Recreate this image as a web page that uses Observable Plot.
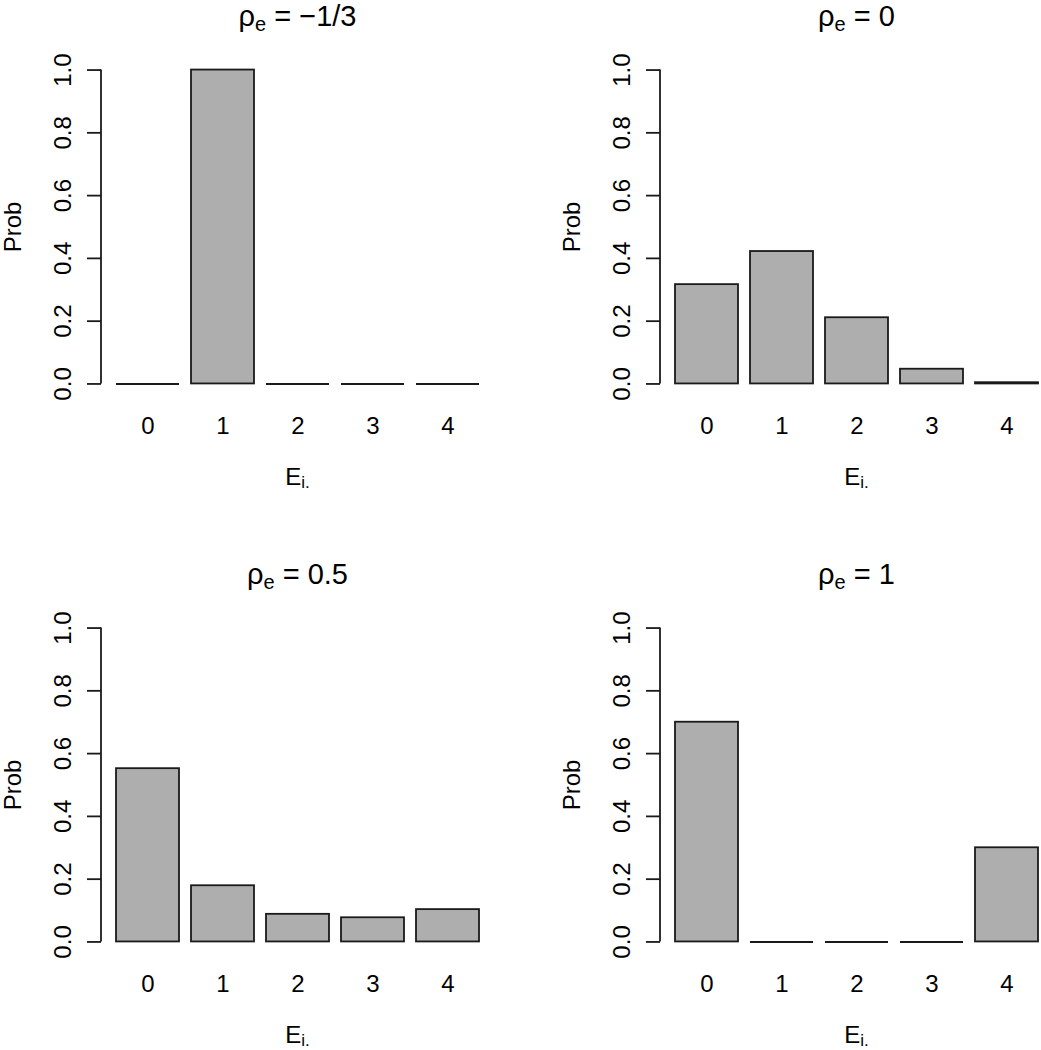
<!DOCTYPE html>
<html><head><meta charset="utf-8">
<script src="https://cdn.jsdelivr.net/npm/d3@7"></script>
<script src="https://cdn.jsdelivr.net/npm/@observablehq/plot@0.6"></script>
<style>
body{margin:0;background:#fff;}
#fig{position:relative;width:1041px;height:1050px;overflow:hidden;background:#fff;}
.panel{position:absolute;width:560px;height:558px;}
.panel svg{overflow:visible;max-width:none !important;}
</style></head><body><div id="fig"></div>
<script>
// ---- data ----
const categories = ["0", "1", "2", "3", "4"];
const panelTitles = ["\u22121/3", "0", "0.5", "1"];
const probRhoNeg = [0, 1, 0, 0, 0];
const probRho0 = [0.3164, 0.4219, 0.2109, 0.0469, 0.0039];
const probRho05 = [0.552, 0.179, 0.088, 0.077, 0.103];
const probRho1 = [0.7, 0, 0, 0, 0.3];
const yTicks = [0, 0.2, 0.4, 0.6, 0.8, 1.0];
const yLabel = "Prob";
const xLabelMain = "E", xLabelSub = "i.";
const titleMain = "\u03C1", titleSub = "e";

const seriesList = [probRhoNeg, probRho0, probRho05, probRho1];
const FONT = "'Liberation Sans', Arial, Helvetica, sans-serif";
const INK = "#1a1a1a";
const panelPos = [[0, 0], [559, 0], [0, 558], [559, 558]];

function mathText(main, sub, rest, opt) {
  return (index, scales, values, dims) => {
    const cx = (dims.marginLeft + dims.width - dims.marginRight) / 2;
    const y = opt.y(dims);
    const t = d3.create("svg:text")
      .attr("x", cx).attr("y", y)
      .attr("text-anchor", "middle")
      .attr("font-family", FONT)
      .attr("font-size", opt.size)
      .attr("fill", "#000")
      .style("white-space", "pre");
    t.append("tspan").text(main);
    t.append("tspan").attr("font-size", opt.subSize).attr("dy", opt.shift).text(sub);
    if (rest) t.append("tspan").attr("dy", -opt.shift).text(rest);
    return t.node();
  };
}

function yAxisLine(index, scales, values, dims) {
  return d3.create("svg:line")
    .attr("x1", dims.marginLeft).attr("x2", dims.marginLeft)
    .attr("y1", scales.y(0)).attr("y2", scales.y(1))
    .attr("stroke", INK).attr("stroke-width", 1.8).node();
}

const fig = document.getElementById("fig");
seriesList.forEach((vals, i) => {
  const data = categories.map((k, j) => ({k, p: vals[j]}));
  const chart = Plot.plot({
    width: 560, height: 558,
    marginLeft: 101, marginRight: 66, marginTop: 57, marginBottom: 162,
    style: {fontFamily: FONT, fontSize: "24px", color: "#000", background: "transparent", maxWidth: "none"},
    x: {type: "band", domain: categories, paddingInner: 1 / 6, paddingOuter: 0.1933, label: null},
    y: {domain: [-0.04, 1.04], label: null},
    marks: [
      Plot.barY(data, {x: "k", y: "p", fill: "#AEAEAE", stroke: INK, strokeWidth: 1.8}),
      Plot.tickY(data.filter(d => d.p === 0), {x: "k", y: "p", stroke: INK, strokeWidth: 2}),
      Plot.axisY({ticks: yTicks, tickFormat: d3.format(".1f"), tickSize: 14, tickPadding: 17,
                  tickRotate: -90, strokeWidth: 1.8, stroke: INK, fontSize: 24, label: null}),
      yAxisLine,
      Plot.axisX({tickSize: 0, tickPadding: 20, fontSize: 24, label: null}),
      Plot.text([yLabel], {frameAnchor: "left", dx: -81, rotate: -90, lineAnchor: "bottom",
                           textAnchor: "middle", fontSize: 24}),
      mathText(titleMain, titleSub, " = " + panelTitles[i],
               {size: 29, subSize: 20, shift: 5, y: d => d.marginTop - 31}),
      mathText(xLabelMain, xLabelSub, null,
               {size: 24, subSize: 17, shift: 3, y: d => d.height - d.marginBottom + 89})
    ]
  });
  chart.style.maxWidth = "none";
  const wrap = document.createElement("div");
  wrap.className = "panel";
  wrap.style.left = panelPos[i][0] + "px";
  wrap.style.top = panelPos[i][1] + "px";
  wrap.appendChild(chart);
  fig.appendChild(wrap);
});
</script></body></html>
